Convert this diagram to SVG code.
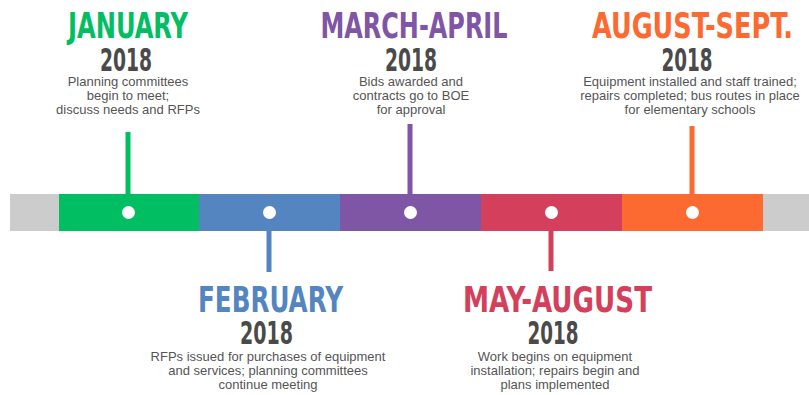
<svg xmlns="http://www.w3.org/2000/svg" width="809" height="395" viewBox="0 0 809 395">
<style>
.hd{font-family:"Liberation Sans Narrow","DejaVu Sans Condensed","DejaVu Sans",sans-serif;font-weight:bold;font-stretch:condensed;font-size:36px;text-anchor:middle}
.yr{font-family:"Liberation Sans Narrow","DejaVu Sans Condensed","DejaVu Sans",sans-serif;font-weight:bold;font-stretch:condensed;font-size:32px;fill:#4a4a4a;text-anchor:middle}
.bd{font-family:"Liberation Sans",Arial,sans-serif;font-size:13px;fill:#555555;text-anchor:middle}
.dot{fill:#ffffff}
</style>
<rect x="0" y="0" width="809" height="395" fill="#ffffff"/>
<g id="bar">
<rect x="10" y="194" width="799" height="37" fill="#cccccc"/>
</g>
<g id="connectors">
<rect x="125.5" y="132" width="5" height="62" fill="#02be62"/>
<rect x="266.5" y="231" width="5" height="41" fill="#5585c1"/>
<rect x="407.5" y="124" width="5" height="70" fill="#7f55a5"/>
<rect x="548.5" y="231" width="5" height="40" fill="#d4405c"/>
<rect x="689.5" y="126" width="5" height="68" fill="#fc6a32"/>
</g>
<g id="jan">
<rect x="59" y="194" width="140.5" height="37" fill="#02be62"/>
<circle class="dot" cx="128.5" cy="212.5" r="6.5"/>
<text class="hd" x="128" y="38" fill="#02be62" textLength="120" lengthAdjust="spacingAndGlyphs">JANUARY</text>
<text class="yr" x="126" y="71" textLength="52" lengthAdjust="spacingAndGlyphs">2018</text>
<text class="bd" x="128" y="86">Planning committees</text>
<text class="bd" x="128" y="100">begin to meet;</text>
<text class="bd" x="128" y="113.5">discuss needs and RFPs</text>
</g>
<g id="feb">
<rect x="199" y="194" width="141.5" height="37" fill="#5585c1"/>
<circle class="dot" cx="269.5" cy="212.5" r="6.5"/>
<text class="hd" x="270.5" y="312" fill="#5585c1" textLength="145" lengthAdjust="spacingAndGlyphs">FEBRUARY</text>
<text class="yr" x="266.5" y="344" textLength="53" lengthAdjust="spacingAndGlyphs">2018</text>
<text class="bd" x="268" y="361">RFPs issued for purchases of equipment</text>
<text class="bd" x="268" y="375">and services; planning committees</text>
<text class="bd" x="268" y="389">continue meeting</text>
</g>
<g id="mar">
<rect x="340" y="194" width="141.5" height="37" fill="#7f55a5"/>
<circle class="dot" cx="410.5" cy="212.5" r="6.5"/>
<text class="hd" x="414" y="38" fill="#7f55a5" textLength="187" lengthAdjust="spacingAndGlyphs">MARCH-APRIL</text>
<text class="yr" x="411" y="71" textLength="52" lengthAdjust="spacingAndGlyphs">2018</text>
<text class="bd" x="411" y="86">Bids awarded and</text>
<text class="bd" x="411" y="100">contracts go to BOE</text>
<text class="bd" x="411" y="113.5">for approval</text>
</g>
<g id="may">
<rect x="481" y="194" width="141.5" height="37" fill="#d4405c"/>
<circle class="dot" cx="551.5" cy="212.5" r="6.5"/>
<text class="hd" x="557.5" y="312" fill="#d4405c" textLength="189" lengthAdjust="spacingAndGlyphs">MAY-AUGUST</text>
<text class="yr" x="553" y="344" textLength="51" lengthAdjust="spacingAndGlyphs">2018</text>
<text class="bd" x="555" y="361">Work begins on equipment</text>
<text class="bd" x="555" y="375">installation; repairs begin and</text>
<text class="bd" x="555" y="389">plans implemented</text>
</g>
<g id="aug">
<rect x="622" y="194" width="141" height="37" fill="#fc6a32"/>
<circle class="dot" cx="692.5" cy="212.5" r="6.5"/>
<text class="hd" x="692.5" y="38" fill="#fc6a32" textLength="201" lengthAdjust="spacingAndGlyphs">AUGUST-SEPT.</text>
<text class="yr" x="687" y="71" textLength="51" lengthAdjust="spacingAndGlyphs">2018</text>
<text class="bd" x="690" y="86">Equipment installed and staff trained;</text>
<text class="bd" x="690" y="100">repairs completed; bus routes in place</text>
<text class="bd" x="690" y="113.5">for elementary schools</text>
</g>
</svg>
